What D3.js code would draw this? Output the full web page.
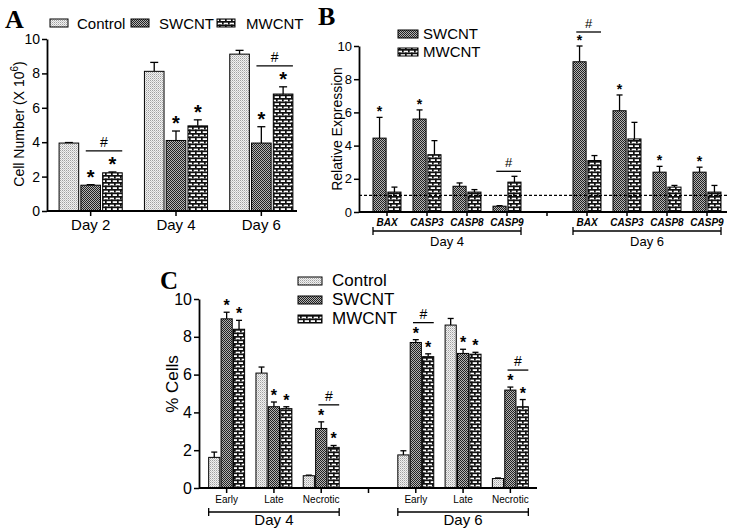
<!DOCTYPE html>
<html>
<head>
<meta charset="utf-8">
<script src="https://cdn.jsdelivr.net/npm/d3@7.9.0/dist/d3.min.js"></script>
<style>
  body { margin: 0; background: #fff; }
  svg { display: block; font-family: "Liberation Sans", Arial, sans-serif; }
  .panel-letter { font-family: "Liberation Serif", "Times New Roman", serif; font-weight: bold; }
</style>
</head>
<body>
<svg id="fig" width="731" height="530"></svg>
<script>
// ---- data ----
const groups = ['Control', 'SWCNT', 'MWCNT'];

// A: cell number (x 10^6)
const daysA = ['Day 2', 'Day 4', 'Day 6'];
const cellControl = [3.95, 8.12, 9.12];
const cellControlErr = [0.03, 0.52, 0.22];
const cellSW = [1.5, 4.1, 3.95];
const cellSWErr = [0.03, 0.55, 0.95];
const cellMW = [2.22, 4.95, 6.8];
const cellMWErr = [0.05, 0.35, 0.42];
const starsA = [['SWCNT', 'MWCNT'], ['SWCNT', 'MWCNT'], ['SWCNT', 'MWCNT']];
const hashA = [true, false, true];

// B: relative expression, slots = genes of day 4, gap, genes of day 6
const slotsB = ['BAX|4', 'CASP3|4', 'CASP8|4', 'CASP9|4', 'gap', 'BAX|6', 'CASP3|6', 'CASP8|6', 'CASP9|6'];
const exprSW = [4.45, 5.6, 1.55, 0.35, null, 9.05, 6.1, 2.4, 2.4];
const exprSWErr = [1.25, 0.55, 0.2, 0.03, null, 0.95, 0.95, 0.35, 0.3];
const exprMW = [1.2, 3.45, 1.2, 1.8, null, 3.1, 4.4, 1.5, 1.2];
const exprMWErr = [0.3, 0.85, 0.15, 0.35, null, 0.3, 1.0, 0.1, 0.4];
const starsB = [true, true, false, false, false, true, true, true, true];
const hashB = [false, false, false, true, false, true, false, false, false];

// C: % cells, slots = stages of day 4, gap, stages of day 6
const slotsC = ['Early|4', 'Late|4', 'Necrotic|4', 'gap', 'Early|6', 'Late|6', 'Necrotic|6'];
const pctControl = [1.62, 6.08, 0.65, null, 1.75, 8.62, 0.5];
const pctControlErr = [0.28, 0.32, 0.03, null, 0.22, 0.35, 0.03];
const pctSW = [8.95, 4.3, 3.15, null, 7.7, 7.12, 5.18];
const pctSWErr = [0.35, 0.25, 0.35, null, 0.15, 0.22, 0.16];
const pctMW = [8.4, 4.2, 2.15, null, 6.95, 7.08, 4.3];
const pctMWErr = [0.47, 0.1, 0.1, null, 0.15, 0.1, 0.38];
const hashC = [false, false, true, false, true, false, true];

const svg = d3.select('#fig');

// ---- fill patterns ----
const defs = svg.append('defs');

const pCtrl = defs.append('pattern').attr('id', 'pat-Control')
  .attr('patternUnits', 'userSpaceOnUse').attr('width', 2).attr('height', 2);
pCtrl.append('rect').attr('width', 2).attr('height', 2).attr('fill', '#f2f2f2');
pCtrl.append('rect').attr('width', 1).attr('height', 1).attr('fill', '#a0a0a0');
pCtrl.append('rect').attr('x', 1).attr('y', 1).attr('width', 1).attr('height', 1).attr('fill', '#c8c8c8');

const pSW = defs.append('pattern').attr('id', 'pat-SWCNT')
  .attr('patternUnits', 'userSpaceOnUse').attr('width', 2).attr('height', 2);
pSW.append('rect').attr('width', 2).attr('height', 2).attr('fill', '#b4b4b4');
pSW.append('rect').attr('width', 1).attr('height', 1).attr('fill', '#222');
pSW.append('rect').attr('x', 1).attr('y', 1).attr('width', 1).attr('height', 1).attr('fill', '#222');

const pMW = defs.append('pattern').attr('id', 'pat-MWCNT')
  .attr('patternUnits', 'userSpaceOnUse').attr('width', 6).attr('height', 7);
pMW.append('rect').attr('width', 6).attr('height', 7).attr('fill', '#fff');
pMW.append('rect').attr('width', 6).attr('height', 1.7).attr('fill', '#111');
pMW.append('rect').attr('y', 3.5).attr('width', 6).attr('height', 1.7).attr('fill', '#111');
pMW.append('rect').attr('width', 1.7).attr('height', 3.5).attr('fill', '#111');
pMW.append('rect').attr('x', 3).attr('y', 3.5).attr('width', 1.7).attr('height', 3.5).attr('fill', '#111');

const fillOf = (g) => `url(#pat-${g})`;

// ---- shared helpers ----
function yAxis(g, y, x0, fontSize) {
  const ax = g.append('g').attr('transform', `translate(${x0},0)`)
    .call(d3.axisLeft(y).tickValues([0, 2, 4, 6, 8, 10]).tickSize(5).tickSizeOuter(0).tickPadding(2));
  ax.select('.domain').attr('stroke-width', 1.8);
  ax.selectAll('.tick line').attr('stroke-width', 1.5);
  ax.selectAll('.tick text').attr('font-size', fontSize).attr('fill', '#000')
    .attr('font-family', '"Liberation Sans", Arial, sans-serif');
}

function xBaseline(g, y0, xStart, xEnd) {
  g.append('line').attr('x1', xStart).attr('x2', xEnd).attr('y1', y0).attr('y2', y0)
    .attr('stroke', '#000').attr('stroke-width', 1.8);
}

function drawBar(g, x, w, y, val, err, grp, cap) {
  if (val == null) return;
  const top = y(val);
  const errTop = y(val + err);
  const cx = x + w / 2;
  g.append('line').attr('x1', cx).attr('x2', cx).attr('y1', top).attr('y2', errTop)
    .attr('stroke', '#000').attr('stroke-width', 1.3);
  g.append('line').attr('x1', cx - cap / 2).attr('x2', cx + cap / 2).attr('y1', errTop).attr('y2', errTop)
    .attr('stroke', '#000').attr('stroke-width', 1.3);
  g.append('rect').attr('x', x).attr('y', top).attr('width', w).attr('height', y(0) - top)
    .attr('fill', fillOf(grp)).attr('stroke', '#000').attr('stroke-width', 1);
}

function star(g, cx, errTop, size) {
  g.append('text').attr('x', cx).attr('y', errTop - 1).attr('text-anchor', 'middle')
    .attr('font-size', size).attr('font-weight', 'bold').text('*');
}

function hashMark(g, x1, x2, ly, size) {
  g.append('line').attr('x1', x1).attr('x2', x2).attr('y1', ly).attr('y2', ly)
    .attr('stroke', '#000').attr('stroke-width', 1.3);
  g.append('text').attr('x', (x1 + x2) / 2).attr('y', ly - 4).attr('text-anchor', 'middle')
    .attr('font-size', size).text('#');
}

function bracket(g, x1, x2, by, label, fontSize, labelY) {
  g.append('path').attr('d', `M${x1},${by - 4}V${by + 4}M${x1},${by}H${x2}M${x2},${by - 4}V${by + 4}`)
    .attr('stroke', '#000').attr('stroke-width', 1.3).attr('fill', 'none');
  g.append('text').attr('x', (x1 + x2) / 2).attr('y', labelY).attr('text-anchor', 'middle')
    .attr('font-size', fontSize).text(label);
}

function legendItem(g, x, y, w, h, grp, tx, ty, fontSize) {
  g.append('rect').attr('x', x).attr('y', y).attr('width', w).attr('height', h)
    .attr('fill', fillOf(grp)).attr('stroke', '#000').attr('stroke-width', 1);
  g.append('text').attr('x', tx).attr('y', ty).attr('font-size', fontSize).text(grp);
}

// ================= Panel A =================
const gA = svg.append('g');
const yA = d3.scaleLinear().domain([0, 10]).range([211, 39]);
const xA = d3.scaleBand().domain(daysA).range([48, 304]).paddingInner(0.26).paddingOuter(0.13);
const xA1 = d3.scaleBand().domain(groups).range([0, xA.bandwidth()]).paddingInner(0.1);
const valsA = { Control: [cellControl, cellControlErr], SWCNT: [cellSW, cellSWErr], MWCNT: [cellMW, cellMWErr] };

daysA.forEach((d, i) => {
  groups.forEach((grp) => {
    const [v, e] = valsA[grp];
    drawBar(gA, xA(d) + xA1(grp), xA1.bandwidth(), yA, v[i], e[i], grp, 8);
    if (starsA[i].includes(grp)) star(gA, xA(d) + xA1(grp) + xA1.bandwidth() / 2, yA(v[i] + e[i]), 20);
  });
  if (hashA[i]) {
    const swMid = xA(d) + xA1('SWCNT') + xA1.bandwidth() / 2;
    const top = Math.min(yA(cellSW[i] + cellSWErr[i]), yA(cellMW[i] + cellMWErr[i]));
    hashMark(gA, swMid - xA1.bandwidth() * 0.25, xA(d) + xA1('MWCNT') + xA1.bandwidth(), top - 21, 14);
  }
});
yAxis(gA, yA, 47, 14);
xBaseline(gA, 211, 47, 297);
daysA.forEach((d) => {
  const cx = xA(d) + xA.bandwidth() / 2;
  gA.append('line').attr('x1', cx).attr('x2', cx).attr('y1', 211).attr('y2', 216)
    .attr('stroke', '#000').attr('stroke-width', 1.5);
  gA.append('text').attr('x', cx).attr('y', 230).attr('text-anchor', 'middle').attr('font-size', 15).text(d);
});
gA.append('text').attr('transform', 'translate(24,124) rotate(-90)').attr('text-anchor', 'middle')
  .attr('font-size', 14)
  .call((t) => {
    t.append('tspan').text('Cell Number (X 10');
    t.append('tspan').attr('font-size', 10).attr('dy', -6).text('6');
    t.append('tspan').attr('dy', 6).text(')');
  });
legendItem(gA, 50, 19, 18, 8, 'Control', 77, 29, 15);
legendItem(gA, 131, 19, 18, 8, 'SWCNT', 159, 29, 15);
legendItem(gA, 217, 19, 18, 8, 'MWCNT', 246, 29, 15);
gA.append('text').attr('class', 'panel-letter').attr('x', 5).attr('y', 28).attr('font-size', 26).text('A');

// ================= Panel B =================
const gB = svg.append('g');
const yB = d3.scaleLinear().domain([0, 10]).range([212, 46]);
const xB = d3.scaleBand().domain(slotsB).range([367, 727]).paddingInner(0.3).paddingOuter(0.15);
const xB1 = d3.scaleBand().domain(['SWCNT', 'MWCNT']).range([0, xB.bandwidth()]).paddingInner(0.12);

slotsB.forEach((s, i) => {
  drawBar(gB, xB(s) + xB1('SWCNT'), xB1.bandwidth(), yB, exprSW[i], exprSWErr[i], 'SWCNT', 6);
  drawBar(gB, xB(s) + xB1('MWCNT'), xB1.bandwidth(), yB, exprMW[i], exprMWErr[i], 'MWCNT', 6);
  if (starsB[i]) star(gB, xB(s) + xB1('SWCNT') + xB1.bandwidth() / 2, yB(exprSW[i] + exprSWErr[i]), 14);
  if (hashB[i]) {
    const swMid = xB(s) + xB1('SWCNT') + xB1.bandwidth() / 2;
    const top = Math.min(yB(exprSW[i] + exprSWErr[i]), yB(exprMW[i] + exprMWErr[i]));
    hashMark(gB, swMid - xB1.bandwidth() * 0.25, xB(s) + xB.bandwidth(), top - (starsB[i] ? 14 : 5), 13);
  }
});
gB.append('line').attr('x1', 359).attr('x2', 727).attr('y1', yB(1)).attr('y2', yB(1))
  .attr('stroke', '#000').attr('stroke-width', 1.2).attr('stroke-dasharray', '3,2');
yAxis(gB, yB, 359, 13);
xBaseline(gB, 212, 359, 727);
slotsB.forEach((s) => {
  const cx = xB(s) + xB.bandwidth() / 2;
  gB.append('line').attr('x1', cx).attr('x2', cx).attr('y1', 212).attr('y2', 216)
    .attr('stroke', '#000').attr('stroke-width', 1.5);
  if (s !== 'gap') {
    gB.append('text').attr('x', cx).attr('y', 226).attr('text-anchor', 'middle')
      .attr('font-size', 10).attr('font-style', 'italic').attr('font-weight', 'bold').text(s.split('|')[0]);
  }
});
bracket(gB, xB('BAX|4'), xB('CASP9|4') + xB.bandwidth(), 231, 'Day 4', 13, 246);
bracket(gB, xB('BAX|6'), xB('CASP9|6') + xB.bandwidth(), 231, 'Day 6', 13, 246);
gB.append('text').attr('transform', 'translate(342,129) rotate(-90)').attr('text-anchor', 'middle')
  .attr('font-size', 14).text('Relative Expression');
legendItem(gB, 398, 30, 20, 8, 'SWCNT', 423, 39, 15);
legendItem(gB, 398, 48, 20, 8, 'MWCNT', 423, 57, 15);
gB.append('text').attr('class', 'panel-letter').attr('x', 318).attr('y', 25).attr('font-size', 26).text('B');

// ================= Panel C =================
const gC = svg.append('g');
const yC = d3.scaleLinear().domain([0, 10]).range([488, 299]);
const xC = d3.scaleBand().domain(slotsC).range([203, 534]).paddingInner(0.24).paddingOuter(0.12);
const xC1 = d3.scaleBand().domain(groups).range([0, xC.bandwidth()]).paddingInner(0.1);
const valsC = { Control: [pctControl, pctControlErr], SWCNT: [pctSW, pctSWErr], MWCNT: [pctMW, pctMWErr] };

slotsC.forEach((s, i) => {
  groups.forEach((grp) => {
    const [v, e] = valsC[grp];
    drawBar(gC, xC(s) + xC1(grp), xC1.bandwidth(), yC, v[i], e[i], grp, 6);
    if (grp !== 'Control' && v[i] != null) star(gC, xC(s) + xC1(grp) + xC1.bandwidth() / 2, yC(v[i] + e[i]), 16);
  });
  if (hashC[i]) {
    const swMid = xC(s) + xC1('SWCNT') + xC1.bandwidth() / 2;
    const top = Math.min(yC(pctSW[i] + pctSWErr[i]), yC(pctMW[i] + pctMWErr[i]));
    hashMark(gC, swMid - xC1.bandwidth() * 0.25, xC(s) + xC.bandwidth(), top - 17, 14);
  }
});
yAxis(gC, yC, 199, 16);
xBaseline(gC, 488, 199, 537);
slotsC.forEach((s) => {
  const cx = xC(s) + xC.bandwidth() / 2;
  gC.append('line').attr('x1', cx).attr('x2', cx).attr('y1', 488).attr('y2', 493)
    .attr('stroke', '#000').attr('stroke-width', 1.5);
  if (s !== 'gap') {
    gC.append('text').attr('x', cx).attr('y', 503).attr('text-anchor', 'middle')
      .attr('font-size', 10).text(s.split('|')[0]);
  }
});
bracket(gC, xC('Early|4'), xC('Necrotic|4') + xC.bandwidth(), 512, 'Day 4', 15, 525);
bracket(gC, xC('Early|6'), xC('Necrotic|6') + xC.bandwidth(), 512, 'Day 6', 15, 525);
gC.append('text').attr('transform', 'translate(178,384) rotate(-90)').attr('text-anchor', 'middle')
  .attr('font-size', 17).text('% Cells');
legendItem(gC, 298, 277, 24, 8, 'Control', 332, 286, 17);
legendItem(gC, 298, 296, 24, 8, 'SWCNT', 332, 305, 17);
legendItem(gC, 298, 315, 24, 8, 'MWCNT', 332, 324, 17);
gC.append('text').attr('class', 'panel-letter').attr('x', 160).attr('y', 289).attr('font-size', 25).text('C');
</script>
</body>
</html>
